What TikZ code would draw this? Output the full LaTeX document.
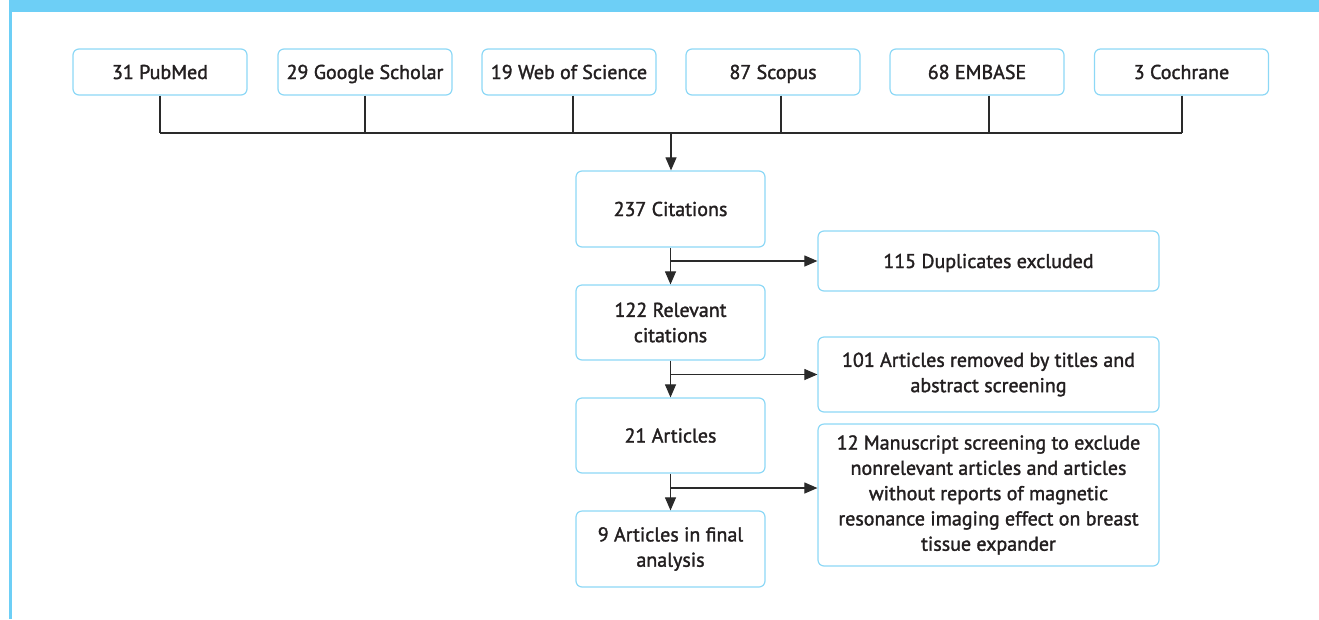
\documentclass[tikz,border=0pt]{standalone}
\usepackage{fontspec}
\setmainfont{PT Sans}[UprightFeatures={FakeBold=1.6}]
\usetikzlibrary{arrows.meta}
\definecolor{hdr}{HTML}{6DCFF6}
\definecolor{bord}{HTML}{8DD8F6}
\definecolor{txt}{HTML}{231F20}
\definecolor{ln}{HTML}{2A2A2A}
\tikzset{
  box/.style={draw=bord, line width=1.2pt, rounded corners=6pt, fill=white, text=txt,
    align=center, inner sep=0pt, font=\fontsize{20}{25.3}\selectfont},
  one/.style={text height=14pt, text depth=0pt},
  src/.style={box, one, minimum width=174pt, minimum height=46pt},
  mainbox/.style={box, minimum width=189pt},
  sidebox/.style={box, minimum width=341pt},
  conn/.style={draw=ln, line width=1.1pt},
  arr/.style={conn, -{Triangle[length=13pt,width=11pt]}}
}
\begin{document}
\begin{tikzpicture}[x=1pt,y=-1pt]
\useasboundingbox (0,0) rectangle (1319,619);
% header bar and left rule
\fill[hdr] (9,0) rectangle (1319,12);
\fill[hdr] (9,12) rectangle (12,619);

% source boxes
\node[src] (p1) at (160,72) {31 PubMed};
\node[src] (p2) at (365,72) {29 Google Scholar};
\node[src] (p3) at (569,72) {19 Web of Science};
\node[src] (p4) at (773,72) {87 Scopus};
\node[src] (p5) at (977,72) {68 EMBASE};
\node[src] (p6) at (1181.5,72) {3 Cochrane};

% main column
\node[mainbox, one, minimum height=76pt] (cit) at (670.5,209) {237 Citations};
\node[mainbox, minimum height=75pt] (rel) at (670.5,322.5) {122 Relevant\\citations};
\node[mainbox, one, minimum height=75pt] (art) at (670.5,435.5) {21 Articles};
\node[mainbox, minimum height=76pt] (fin) at (670.5,549) {9 Articles in final\\analysis};

% side column
\node[sidebox, one, minimum height=60pt] (dup) at (988.5,261) {115 Duplicates excluded};
\node[sidebox, minimum height=75pt] (rem) at (988.5,374.5) {101 Articles removed by titles and\\abstract screening};
\node[sidebox, minimum height=142pt] (man) at (988.5,495) {12 Manuscript screening to exclude\\nonrelevant articles and articles\\without reports of magnetic\\resonance imaging effect on breast\\tissue expander};

% collector
\coordinate (h1) at (160,133);
\coordinate (h2) at (365,133);
\coordinate (h3) at (573,133);
\coordinate (h4) at (781,133);
\coordinate (h5) at (989,133);
\coordinate (h6) at (1182,133);
\coordinate (hm) at (671,133);
\draw[conn] (p1.south -| h1) -- (h1);
\draw[conn] (p2.south -| h2) -- (h2);
\draw[conn] (p3.south -| h3) -- (h3);
\draw[conn] (p4.south -| h4) -- (h4);
\draw[conn] (p5.south -| h5) -- (h5);
\draw[conn] (p6.south -| h6) -- (h6);
\draw[conn] (h1) -- (h6);
\draw[arr] (hm) -- (hm |- cit.north);

% main flow
\draw[arr] (cit.south) -- (rel.north);
\draw[arr] (rel.south) -- (art.north);
\draw[arr] (art.south) -- (fin.north);

% exclusions
\draw[arr] (cit.south |- dup.west) -- (dup.west);
\draw[arr] (rel.south |- rem.west) -- (rem.west);
\coordinate (b3) at (671,488);
\draw[arr] (art.south |- b3) -- (b3 -| man.west);
\end{tikzpicture}
\end{document}
